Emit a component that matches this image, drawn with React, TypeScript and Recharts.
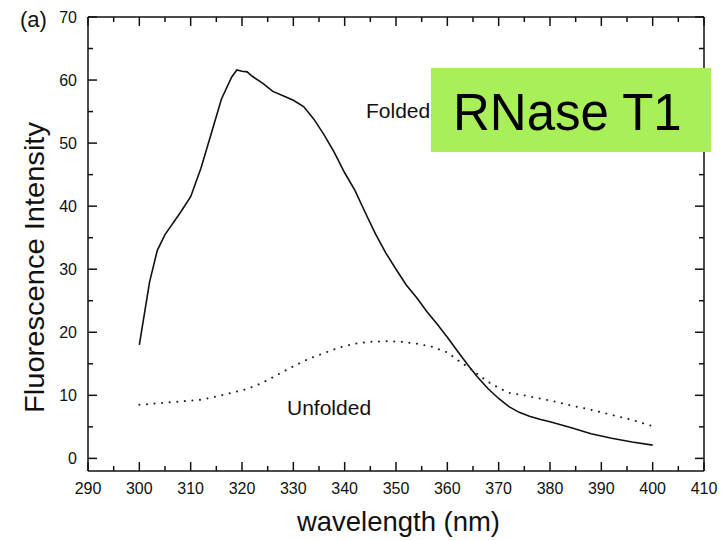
import React from 'react'
import { LineChart, Line, XAxis, YAxis } from 'recharts'

// emission spectra (wavelength nm, intensity)
const foldedWl = [300, 302, 303.5, 305, 308, 310, 312, 314, 316, 318, 319, 320, 321, 322, 324, 326, 328, 330, 332, 334, 336, 338, 340, 342, 344, 346, 348, 350, 352, 354, 356, 358, 360, 362, 364, 366, 368, 370, 372, 374, 376, 378, 380, 384, 388, 392, 396, 400]
const foldedVal = [18, 28, 33, 35.5, 39, 41.5, 46, 51.5, 57, 60.5, 61.6, 61.4, 61.3, 60.6, 59.5, 58.2, 57.5, 56.8, 55.8, 53.8, 51.3, 48.5, 45.3, 42.5, 39, 35.6, 32.6, 30, 27.5, 25.5, 23.3, 21.3, 19.2, 17, 14.8, 12.8, 11, 9.5, 8.2, 7.3, 6.7, 6.2, 5.8, 4.9, 3.9, 3.2, 2.6, 2.1]

const unfoldedWl = [300, 303, 306, 309, 312, 315, 318, 321, 324, 327, 330, 333, 336, 339, 342, 345, 348, 351, 354, 357, 360, 362, 364, 366, 368, 370, 372, 375, 378, 381, 384, 387, 390, 393, 396, 398, 400]
const unfoldedVal = [8.5, 8.7, 8.9, 9.1, 9.3, 9.8, 10.4, 11, 12, 13.3, 14.6, 15.8, 16.7, 17.6, 18.2, 18.5, 18.6, 18.5, 18.2, 17.7, 16.8, 15.6, 14.5, 13.3, 12.1, 11.2, 10.4, 10, 9.5, 9.0, 8.4, 7.9, 7.3, 6.7, 6.1, 5.6, 5.1]

const xTicks = [290, 295, 300, 305, 310, 315, 320, 325, 330, 335, 340, 345, 350, 355, 360, 365, 370, 375, 380, 385, 390, 395, 400, 405, 410]
const yTicks = [0, 5, 10, 15, 20, 25, 30, 35, 40, 45, 50, 55, 60, 65, 70]

const folded = foldedWl.map((wl, i) => ({ wl, v: foldedVal[i] }))
const unfolded = unfoldedWl.map((wl, i) => ({ wl, v: unfoldedVal[i] }))

const FONT = '"Liberation Sans", Arial, Helvetica, sans-serif'
const INK = '#111'

const len = (v: number) => (v % 10 === 0 ? 9 : 5)

const BottomTick = (props: any) => {
  const { x, y, payload } = props
  const v = payload.value
  return (
    <g>
      <line x1={x} y1={y} x2={x} y2={y - len(v)} stroke={INK} strokeWidth={1.5} />
      {v % 10 === 0 && (
        <text x={x} y={y + 23} textAnchor="middle" fontSize={16} fontFamily={FONT} fill={INK}>
          {v}
        </text>
      )}
    </g>
  )
}

const TopTick = (props: any) => {
  const { x, y, payload } = props
  return <line x1={x} y1={y} x2={x} y2={y + len(payload.value)} stroke={INK} strokeWidth={1.5} />
}

const LeftTick = (props: any) => {
  const { x, y, payload } = props
  const v = payload.value
  return (
    <g>
      <line x1={x} y1={y} x2={x + len(v)} y2={y} stroke={INK} strokeWidth={1.5} />
      {v % 10 === 0 && (
        <text x={x - 11} y={y + 6} textAnchor="end" fontSize={16} fontFamily={FONT} fill={INK}>
          {v}
        </text>
      )}
    </g>
  )
}

const RightTick = (props: any) => {
  const { x, y, payload } = props
  return <line x1={x} y1={y} x2={x - len(payload.value)} y2={y} stroke={INK} strokeWidth={1.5} />
}

const axisLine = { stroke: INK, strokeWidth: 1.5 }

export default function App() {
  return (
    <div style={{ position: 'absolute', left: 0, top: 0, width: 727, height: 540, background: '#fff' }}>
      <LineChart width={727} height={540} data={folded} margin={{ top: 16, right: 22, bottom: 68, left: 87 }}>
        <XAxis xAxisId="b" dataKey="wl" type="number" domain={[290, 410]} ticks={xTicks} interval={0}
          height={1} tickSize={0} tickMargin={0} tickLine={false} axisLine={axisLine} tick={<BottomTick />} />
        <XAxis xAxisId="t" orientation="top" dataKey="wl" type="number" domain={[290, 410]} ticks={xTicks} interval={0}
          height={1} tickSize={0} tickMargin={0} tickLine={false} axisLine={axisLine} tick={<TopTick />} />
        <YAxis yAxisId="l" type="number" domain={[-2, 70]} ticks={yTicks} interval={0} allowDataOverflow
          width={1} tickSize={0} tickMargin={0} tickLine={false} axisLine={axisLine} tick={<LeftTick />} />
        <YAxis yAxisId="r" orientation="right" type="number" domain={[-2, 70]} ticks={yTicks} interval={0} allowDataOverflow
          width={1} tickSize={0} tickMargin={0} tickLine={false} axisLine={axisLine} tick={<RightTick />} />
        <Line xAxisId="b" yAxisId="l" data={folded} dataKey="v" type="linear" stroke={INK} strokeWidth={1.6}
          dot={false} isAnimationActive={false} />
        <Line xAxisId="b" yAxisId="l" data={unfolded} dataKey="v" type="linear" stroke="#222" strokeWidth={2}
          strokeDasharray="0.1 7.5" strokeLinecap="round" dot={false} isAnimationActive={false} />
      </LineChart>

      <svg width={727} height={540} style={{ position: 'absolute', left: 0, top: 0, pointerEvents: 'none' }}>
        <text x={20} y={27} fontSize={22} fontFamily={FONT} fill={INK}>(a)</text>
        <text x={366} y={118} fontSize={21} fontFamily={FONT} fill={INK}>Folded</text>
        <text x={287} y={415} fontSize={21} fontFamily={FONT} fill={INK}>Unfolded</text>
        <text x={297} y={531} fontSize={27.5} fontFamily={FONT} fill={INK}
          textLength={203} lengthAdjust="spacingAndGlyphs">wavelength (nm)</text>
        <text transform="translate(44 413) rotate(-90)" x={0} y={0} fontSize={28} fontFamily={FONT} fill={INK}
          textLength={291} lengthAdjust="spacingAndGlyphs">Fluorescence Intensity</text>
        <rect x={431} y={68} width={280} height={84} fill="#a8ef5a" />
        <text x={453} y={130} fontSize={51} fontFamily={FONT} fill="#000">RNase T1</text>
      </svg>
    </div>
  )
}
